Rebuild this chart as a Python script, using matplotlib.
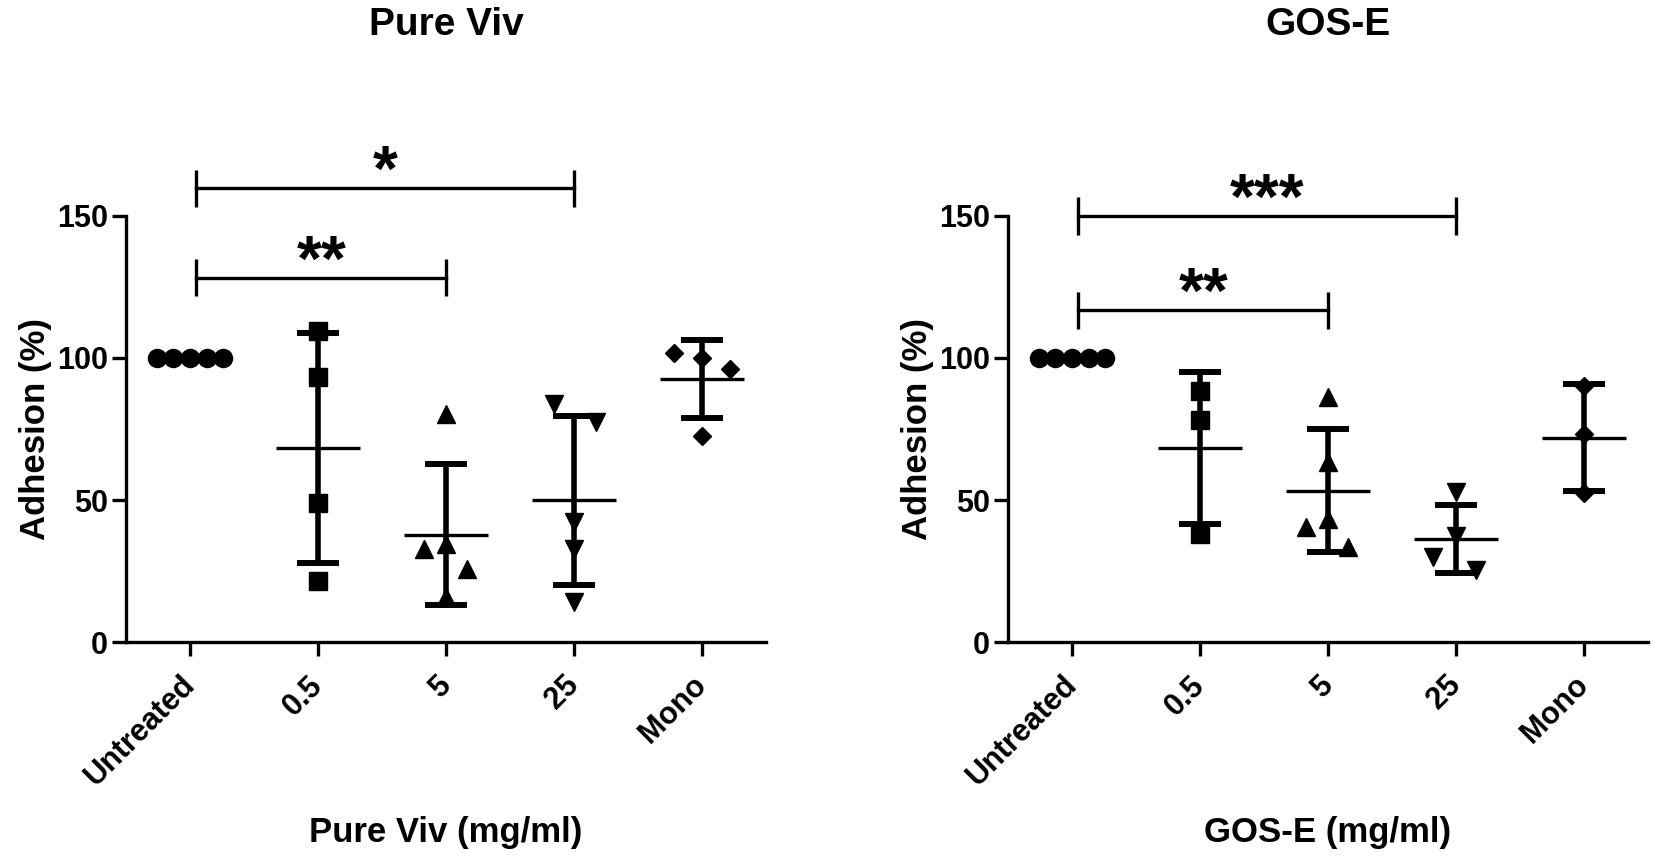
import numpy as np
import matplotlib
matplotlib.use('Agg')
import matplotlib.pyplot as plt

plt.rcParams['font.family'] = ['Liberation Sans', 'DejaVu Sans']
plt.rcParams['font.weight'] = 'bold'

# x categories
categories = ['Untreated', '0.5', '5', '25', 'Mono']

# Pure Viv adhesion (%)
viv_untreated = [100, 100, 100, 100, 100]
viv_05 = [109.6, 93.2, 48.9, 21.6]
viv_5 = [80.3, 32.7, 34.5, 25.7, 15.7]
viv_25 = [83.8, 77.3, 42.1, 32.7, 14.0]
viv_mono = [101.8, 100.1, 96.0, 72.4]

# GOS-E adhesion (%)
gos_untreated = [100, 100, 100, 100, 100]
gos_05 = [88.5, 78.2, 38.0]
gos_5 = [86.4, 63.3, 43.3, 40.4, 33.3]
gos_25 = [52.7, 37.4, 29.8, 25.4]
gos_mono = [90.0, 73.3, 52.5]

# significance brackets: (from, to, height, label)
viv_sig = [(0, 3, 159.7, '*'), (0, 2, 128.3, '**')]
gos_sig = [(0, 3, 150.0, '***'), (0, 2, 116.8, '**')]

# horizontal scatter of points (category units), layout only
untreated_jit = [-0.26, -0.13, 0, 0.13, 0.26]
viv_jit = [untreated_jit, [0, 0, 0, 0], [0, -0.17, 0, 0.165, 0],
           [-0.16, 0.17, 0, 0, 0], [-0.22, 0, 0.22, 0]]
gos_jit = [untreated_jit, [0, 0, 0], [0, 0, 0, -0.17, 0.16],
           [0, 0, -0.18, 0.16], [0, 0, 0]]

markers = ['o', 's', '^', 'v', 'D']
msizes = {'o': 13, 's': 13, '^': 13, 'v': 13, 'D': 9}

W, H = 1656, 856
fig = plt.figure(figsize=(W / 100, H / 100), dpi=100)


def add_axes(x0, x1, y0, y1):
    return fig.add_axes([x0 / W, 1 - y1 / H, (x1 - x0) / W, (y1 - y0) / H])


def draw_panel(ax, groups, jitter, sig, title, xlabel):
    for i, (vals, jit, mk) in enumerate(zip(groups, jitter, markers)):
        vals = np.asarray(vals, dtype=float)
        m = vals.mean()
        sd = vals.std(ddof=1)
        ax.vlines(i, m - sd, m + sd, color='black', lw=4, zorder=2)
        ax.hlines([m - sd, m + sd], i - 0.165, i + 0.165, color='black', lw=4.3, zorder=2)
        ax.hlines(m, i - 0.33, i + 0.33, color='black', lw=2.4, zorder=2)
        ax.plot(i + np.asarray(jit), vals, linestyle='none', marker=mk,
                ms=msizes[mk], color='black', zorder=3, clip_on=False)

    for x0, x1, y, lab in sig:
        ax.plot([x0 + 0.05, x1], [y, y], color='black', lw=2.4, clip_on=False)
        ax.vlines([x0 + 0.05, x1], y - 6.6, y + 6.6, color='black', lw=2.4, clip_on=False)
        ax.text((x0 + 0.05 + x1) / 2, y - 1, lab, ha='center', va='baseline',
                fontsize=46, fontweight='bold')

    ax.set_xlim(-0.5, 4.5)
    ax.set_ylim(0, 150)
    ax.set_yticks([0, 50, 100, 150])
    ax.set_xticks(range(len(categories)))
    ax.set_xticklabels(categories, rotation=45, ha='right', va='center',
                       rotation_mode='anchor')
    for s in ['top', 'right']:
        ax.spines[s].set_visible(False)
    for s in ['left', 'bottom']:
        ax.spines[s].set_linewidth(2.4)
    ax.tick_params(axis='both', direction='out', length=10, width=2.4, labelsize=22)
    ax.tick_params(axis='x', pad=18)
    ax.tick_params(axis='y', pad=3)
    ax.set_ylabel('Adhesion (%)', fontsize=25, fontweight='bold')
    ax.yaxis.set_label_coords(-0.115, 0.5)

    pos = ax.get_position()
    cx = (pos.x0 + pos.x1) / 2
    fig.text(cx, 1 - 35 / H, title, ha='center', va='baseline', fontsize=28, fontweight='bold')
    fig.text(cx, 1 - 842 / H, xlabel, ha='center', va='baseline', fontsize=25, fontweight='bold')


ax_l = add_axes(126, 766, 216, 642)
ax_r = add_axes(1008, 1648, 216, 642)

draw_panel(ax_l, [viv_untreated, viv_05, viv_5, viv_25, viv_mono], viv_jit, viv_sig,
           'Pure Viv', 'Pure Viv (mg/ml)')
draw_panel(ax_r, [gos_untreated, gos_05, gos_5, gos_25, gos_mono], gos_jit, gos_sig,
           'GOS-E', 'GOS-E (mg/ml)')

fig.savefig('out.png', dpi=100, facecolor='white')
